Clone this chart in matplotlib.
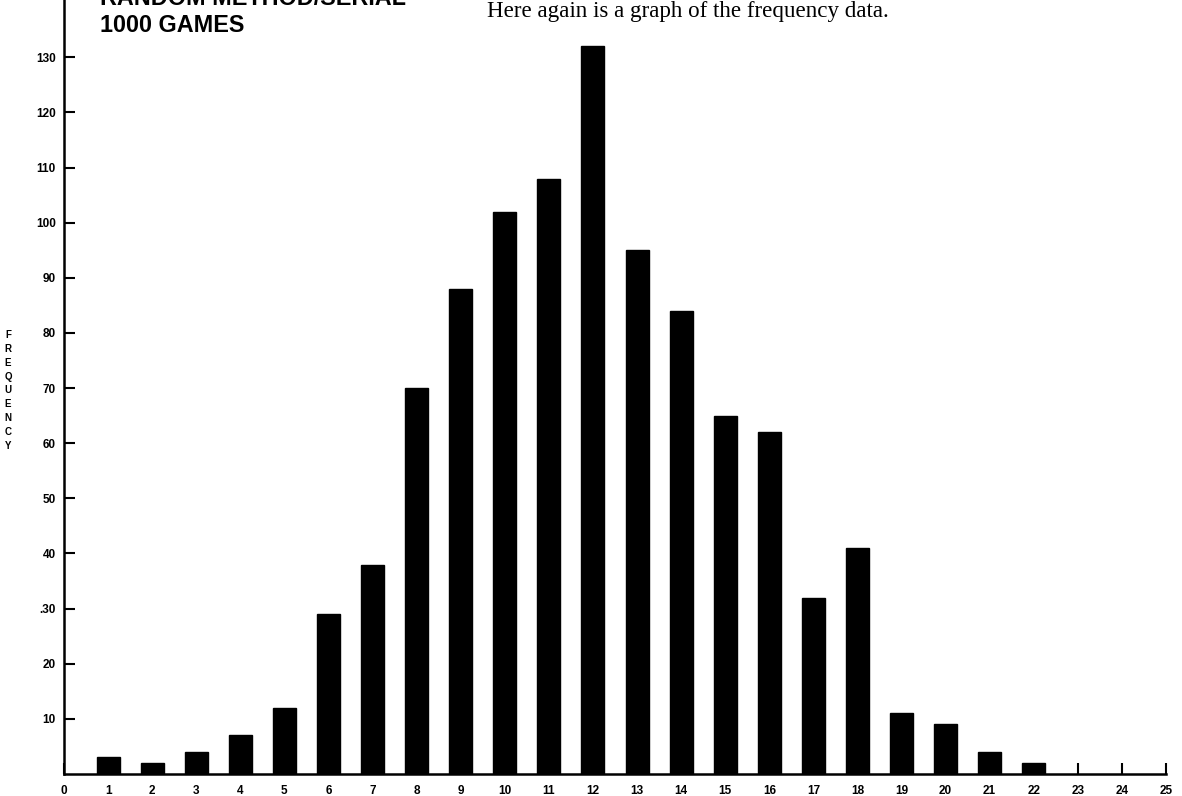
import matplotlib
matplotlib.use("Agg")
import matplotlib.pyplot as plt

# Frequency of results over 1000 games (random method / serial)
outcomes = list(range(1, 23))
frequency = [3, 2, 4, 7, 12, 29, 38, 70, 88, 102, 108, 132, 95, 84, 65, 62, 32, 41, 11, 9, 4, 2]

x_ticks = list(range(0, 26))
x_tick_labels = [str(v) for v in x_ticks]
y_ticks = list(range(10, 140, 10))
y_tick_labels = ["10", "20", ".30", "40", "50", "60", "70", "80", "90", "100", "110", "120", "130"]
y_title = "FREQUENCY"

W, H = 1182, 796
fig = plt.figure(figsize=(W / 100, H / 100), dpi=100)
fig.patch.set_facecolor("white")

left_px, right_px, base_px, top_px = 64, 1166, 774, 0
ax = fig.add_axes([left_px / W, (H - base_px) / H, (right_px - left_px) / W, (base_px - top_px) / H])

ax.bar(outcomes, frequency, width=0.52, color="black", edgecolor="black")

ax.set_xlim(0, 25)
ax.set_ylim(0, 140.4)

for s in ("top", "right"):
    ax.spines[s].set_visible(False)
for s in ("left", "bottom"):
    ax.spines[s].set_linewidth(1.8)
    ax.spines[s].set_color("black")

tick_font = dict(family="Liberation Sans", weight="bold", size=8.5)
ax.set_xticks(x_ticks)
ax.set_xticklabels(x_tick_labels, **tick_font)
ax.set_yticks(y_ticks)
ax.set_yticklabels(y_tick_labels, **tick_font)
ax.tick_params(axis="x", direction="in", length=8, width=1.5, pad=8)
ax.tick_params(axis="y", direction="in", length=8, width=1.5, pad=6)

# Vertical stacked axis title, one letter per line
first_px, last_px = 335, 446
step = (last_px - first_px) / (len(y_title) - 1)
for i, ch in enumerate(y_title):
    fig.text(8 / W, 1 - (first_px + i * step) / H, ch, ha="center", va="center",
             family="Liberation Sans", weight="bold", fontsize=7)

# Chart heading (top line partly cut off by the page edge)
fig.text(100 / W, 1 - 5 / H, "RANDOM METHOD/SERIAL", ha="left", va="baseline",
         family="Liberation Sans", weight="bold", fontsize=16.8)
fig.text(100 / W, 1 - 32 / H, "1000 GAMES", ha="left", va="baseline",
         family="Liberation Sans", weight="bold", fontsize=16.8)

fig.text(487 / W, 1 - 17 / H, "Here again is a graph of the frequency data.", ha="left",
         va="baseline", family="Liberation Serif", fontsize=16.6)

fig.savefig("out.png", dpi=100, facecolor="white")
